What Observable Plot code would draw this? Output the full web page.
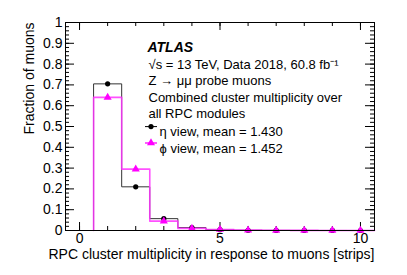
<!DOCTYPE html>
<html><head><meta charset="utf-8">
<script src="https://cdn.jsdelivr.net/npm/d3@7"></script>
<script src="https://cdn.jsdelivr.net/npm/@observablehq/plot@0.6"></script>
<style>
html,body{margin:0;padding:0;background:#fff;}
svg{font-family:"Liberation Sans",Arial,sans-serif;}
</style></head>
<body><div id="chart"></div>
<script>
// Data
const binCenters = [1, 2, 3, 4, 5, 6, 7, 8, 9, 10];
const etaValues = [0.705, 0.21, 0.057, 0.014, 0.004, 0.0012, 0.0005, 0.0003, 0.0002, 0.0001];
const phiValues = [0.64, 0.295, 0.045, 0.010, 0.005, 0.002, 0.001, 0.0005, 0.0003, 0.0002];
const xTickLabels = [0, 5, 10];
const yTickLabels = [0, 0.1, 0.2, 0.3, 0.4, 0.5, 0.6, 0.7, 0.8, 0.9, 1];
const textLines = [
  "√s = 13 TeV, Data 2018, 60.8 fb⁻¹",
  "Z → μμ probe muons",
  "Combined cluster multiplicity over",
  "all RPC modules"
];
const legendLabels = ["η view, mean = 1.430", "ϕ view, mean = 1.452"];

const W = 407, H = 275;
const mL = 65, mR = 33, mT = 22, mB = 45;
const fw = W - mL - mR, fh = H - mT - mB;

function stepData(vals) {
  const pts = [{x: binCenters[0] - 0.5, y: 0}];
  vals.forEach((v, i) => pts.push({x: binCenters[i] - 0.5, y: v}));
  pts.push({x: binCenters[vals.length - 1] + 0.5, y: vals[vals.length - 1]});
  return pts;
}
const eta = binCenters.map((x, i) => ({x, y: etaValues[i]}));
const phi = binCenters.map((x, i) => ({x, y: phiValues[i]}));

const xMinor = d3.range(0, 11);
const yMajor = yTickLabels;
const yMinor = d3.range(0, 51).map(i => i / 50);

const fs = 13;
const pink = "#ff33ff";
const textX = 83, line0 = 37, lineStep = 16.4;

const textMarks = textLines.map((t, i) =>
  Plot.text([t], {frameAnchor: "top-left", dx: textX, dy: line0 + i * lineStep, textAnchor: "start", fontSize: fs}));
const legendDy = legendLabels.map((t, i) => line0 + (4 + i) * lineStep + 2);
const legendMarks = legendLabels.map((t, i) =>
  Plot.text([t], {frameAnchor: "top-left", dx: 94, dy: legendDy[i], textAnchor: "start", fontSize: fs}));

const chart = Plot.plot({
  width: W, height: H,
  marginLeft: mL, marginRight: mR, marginTop: mT, marginBottom: mB,
  style: {fontFamily: "'Liberation Sans', Arial, sans-serif", fontSize: fs + "px", background: "#fff"},
  x: {domain: [-0.5, 10.5], axis: null},
  y: {domain: [0, 1], axis: null},
  marks: [
    // ticks inside the frame
    Plot.tickX(xMinor, {x: d => d, insetTop: fh - 4, stroke: "#000"}),
    Plot.tickX(xTickLabels, {x: d => d, insetTop: fh - 8, stroke: "#000"}),
    Plot.tickX(xMinor, {x: d => d, insetBottom: fh - 4, stroke: "#000"}),
    Plot.tickX(xTickLabels, {x: d => d, insetBottom: fh - 8, stroke: "#000"}),
    Plot.tickY(yMinor, {y: d => d, insetRight: fw - 4, stroke: "#000"}),
    Plot.tickY(yMajor, {y: d => d, insetRight: fw - 9, stroke: "#000"}),
    Plot.tickY(yMinor, {y: d => d, insetLeft: fw - 4, stroke: "#000"}),
    Plot.tickY(yMajor, {y: d => d, insetLeft: fw - 9, stroke: "#000"}),
    // axis labels
    Plot.axisX(xTickLabels, {tickSize: 0, tickPadding: 3, fontSize: fs + 1, label: null}),
    Plot.axisY(yTickLabels, {tickSize: 0, tickPadding: 3, fontSize: fs + 1, label: null, tickFormat: d => String(d)}),
    // histograms
    Plot.line(stepData(etaValues), {x: "x", y: "y", curve: "step-after", stroke: "#333", strokeWidth: 1}),
    Plot.line(stepData(phiValues), {x: "x", y: "y", curve: "step-after", stroke: pink, strokeWidth: 1.6, strokeOpacity: 0.85}),
    // markers
    Plot.dot(eta, {x: "x", y: "y", r: 2.6, fill: "#000", stroke: null}),
    Plot.dot(phi, {x: "x", y: "y", r: 3, symbol: "triangle", fill: "#ff00ff", stroke: null}),
    Plot.frame({stroke: "#000"}),
    // axis titles
    Plot.text(["Fraction of muons"], {frameAnchor: "top-left", dx: -41, dy: 0, rotate: -90, textAnchor: "end", fontSize: fs + 1}),
    Plot.text(["RPC cluster multiplicity in response to muons [strips]"], {frameAnchor: "bottom-right", dy: 28, textAnchor: "end", fontSize: fs + 1}),
    // ATLAS label
    Plot.text(["ATLAS"], {frameAnchor: "top-left", dx: 82, dy: 20, textAnchor: "start", fontWeight: "bold", fontStyle: "italic", fontSize: fs + 1}),
    ...textMarks,
    ...legendMarks
  ]
});
document.getElementById("chart").appendChild(chart);

// legend symbols (line + marker) drawn next to the legend texts
const svg = d3.select(chart);
const lg = svg.append("g");
legendDy.forEach((dy, i) => {
  const cx = mL + 86, cy = mT + dy;
  lg.append("line").attr("x1", cx - 6).attr("x2", cx + 6).attr("y1", cy).attr("y2", cy)
    .attr("stroke", i === 0 ? "#000" : pink).attr("stroke-width", i === 0 ? 1 : 1.6);
  if (i === 0) {
    lg.append("circle").attr("cx", cx).attr("cy", cy).attr("r", 2.6).attr("fill", "#000");
  } else {
    lg.append("path").attr("transform", `translate(${cx},${cy})`)
      .attr("d", d3.symbol(d3.symbolTriangle, Math.PI * 9)()).attr("fill", "#ff00ff");
  }
});
</script></body></html>
